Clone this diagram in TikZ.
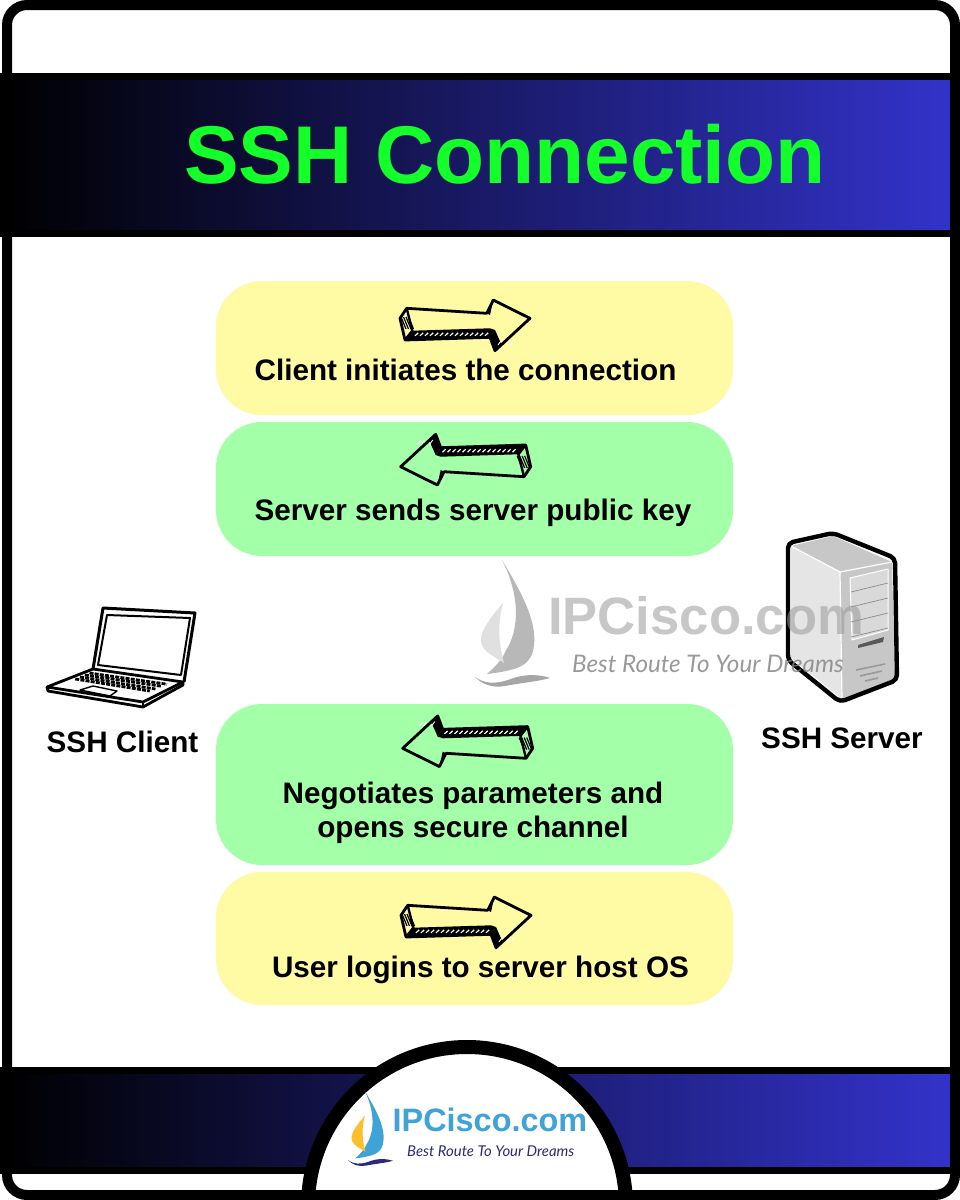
\documentclass[tikz,border=0pt]{standalone}
\usepackage{fontspec}
\setmainfont{Liberation Sans}
\newfontfamily\tagfont{Lato}
\usetikzlibrary{positioning}
\definecolor{bandblue}{HTML}{3333CC}
\definecolor{titlegreen}{HTML}{14FF2A}
\definecolor{pillyellow}{HTML}{FFFAA3}
\definecolor{pillgreen}{HTML}{A3FFA8}
\definecolor{logoblue}{HTML}{3FA3D8}
\definecolor{logoyellow}{HTML}{FDBE2C}
\definecolor{logonavy}{HTML}{2D2A7E}
\tikzset{%
  band/.style={draw=black,line width=7,left color=black,right color=bandblue,minimum width=960,inner sep=0},
  pill/.style={minimum width=517,inner sep=0,rounded corners=46},
  yellowpill/.style={pill,fill=pillyellow},
  greenpill/.style={pill,fill=pillgreen},
  steptext/.style={font=\fontsize{29.65}{34}\selectfont\bfseries,align=center,inner sep=0,anchor=base},
  devtext/.style={font=\fontsize{29.65}{34}\selectfont\bfseries,inner sep=0,anchor=base},
  brand/.style={font=\bfseries,inner sep=0,anchor=base west},
  tagline/.style={font=\tagfont\itshape,inner sep=0,anchor=base west},
  sketcharrow/.pic={
    \fill (-52.7,5.7) -- (25,3.3) -- (30,5) -- (25,12.3) -- (-60,15) -- cycle;
    \fill (30,5) -- (36.7,20) -- (55,1.7) -- (65,-6.7) -- (30,25.7) -- (25,12.3) -- cycle;
    \fill (21.7,-11.7) -- (28.3,-25) -- (25,-10) -- cycle;
    \foreach \x in {-50,-45,...,22}
      \draw[white,line width=1.2] (\x,10.8) -- ++(3.2,-3);
    \foreach \x in {33,37,41,45}
      \draw[white,line width=.9] (\x,20) -- ++(3.2,-4.5);
    \foreach \x in {-64,-61.5,-59,-56.5}
      \draw[line width=1.2] (\x,-8) -- ++(5,12);
    \draw[line width=2.8,line join=round] (-65,-6.7) -- (-58.3,-16.7) -- (21.7,-11.7)
      -- (28.3,-25) -- (65,-6.7) -- (30,25.7) -- (25,12.3) -- (-60,15) -- cycle;
    \draw[line width=2.4] (-58.3,-16.7) -- (-52.7,5.7) -- (-60,15);
  }
}
\newcommand{\sailmark}[6]{%
  \begin{scope}[shift={(#1,#2)},scale=#3]
    \fill[#4] (27,0) .. controls (45,30) and (62,60) .. (59,85)
      .. controls (57,105) and (45,110) .. (12,114)
      .. controls (22,105) and (28,98) .. (30,92)
      .. controls (45,70) and (45,35) .. (27,0) -- cycle;
    \fill[#5] (28,43) .. controls (15,58) and (2,75) .. (7,85)
      .. controls (10,93) and (22,98) .. (29,103)
      .. controls (24,85) and (22,65) .. (28,43) -- cycle;
    \fill[#6] (0,117) .. controls (8,125) and (18,128) .. (30,126)
      .. controls (45,123) and (60,122) .. (75,118)
      .. controls (60,113) and (45,115) .. (33,120)
      .. controls (20,124) and (10,124) .. (0,117) -- cycle;
  \end{scope}}
\begin{document}
\begin{tikzpicture}[x=1pt,y=-1pt]
  \useasboundingbox (0,0) rectangle (960,1200);
  \fill[white] (0,0) rectangle (960,1200);

  % header and footer bands
  \node[band,minimum height=157] (header) at (480,155) {};
  \node[band,minimum height=100] (footer) at (480,1120) {};
  \node[font=\fontsize{81.9}{90}\selectfont\bfseries,text=titlegreen,inner sep=0,anchor=base] (title) at (505,183) {SSH Connection};

  % steps
  \node[yellowpill,minimum height=134] (connect) at (474.5,348) {};
  \node[greenpill,minimum height=134] (pubkey) at (474.5,489) {};
  \node[greenpill,minimum height=161] (channel) at (474.5,784.5) {};
  \node[yellowpill,minimum height=133] (login) at (474.5,938.5) {};

  \pic at (465,325) {sketcharrow};
  \pic[rotate=180] at (465.7,460) {sketcharrow};
  \pic[rotate=180] at (467.7,741.6) {sketcharrow};
  \pic at (466,922) {sketcharrow};

  \node[steptext] (connecttext) at (465.5,380) {Client initiates the connection};
  \node[steptext] (pubkeytext) at (473,520) {Server sends server public key};
  \node[steptext] (channeltext) at (473,837) {Negotiates parameters and\\opens secure channel};
  \node[steptext] (logintext) at (480.5,977) {User logins to server host OS};

  % laptop
  \begin{scope}[line join=round]
    \draw[line width=3] (93,669) -- (103,608) -- (195,613) -- (184,682);
    \draw[line width=2] (98,665) -- (107,615) -- (190,618) -- (181,675) -- cycle;
    \draw[line width=2.8] (47,687) -- (93,669) -- (183,682) -- (143,702) -- cycle;
    \draw[line width=2.8] (47,687) -- (48,691) -- (143,707) -- (183,685) -- (183,682);
    \draw[line width=1.4] (143,702) -- (143,707);
    \foreach \xa/\ya/\xb/\yb in {75.3/679/149.8/691,80/677/155.5/689,84.8/675/161.3/686.2,89.5/673/167/684.2}
      \draw[line width=2.8,dash pattern=on 4pt off 1.2pt] (\xa,\ya) -- (\xb,\yb);
    \draw[line width=1.4] (80,690) -- (93,686) -- (117,691) -- (110,696) -- cycle;
  \end{scope}
  \node[devtext] (clienttext) at (122.5,752) {SSH Client};

  % server
  \begin{scope}[line join=round]
    \fill[black!22] (791,546) -- (833,536) -- (892,562) -- (840,572) -- cycle;
    \fill[black!10] (791,546) -- (840,572) -- (842,699) -- (791,658) -- cycle;
    \fill[black!22] (840,572) -- (892,562) -- (895,680) -- (842,699) -- cycle;
    \draw[white,line width=1.2] (791,546) -- (840,572) -- (892,562);
    \draw[white,line width=1.2] (840,572) -- (842,699);
    \fill[black!15,draw=white,line width=1] (850,578) -- (888,569) -- (888,630) -- (852,640) -- cycle;
    \foreach \y in {0,15,30,45}
      \draw[black!45,line width=.7] (851,592+\y) -- (888,583+\y);
    \fill[black!65] (858,645) -- (884,637) -- (883,642) -- (858,648) -- cycle;
    \draw[black!40,line width=1.6] (856,670) -- (885,664);
    \draw[black!40,line width=1.6] (860,676) -- (882,671);
    \draw[black!40,line width=1.6] (865,681) -- (878,678);
    \draw[line width=4.4,rounded corners=5] (788,543) -- (833,533) -- (895,558) -- (897,680) -- (840,702) -- (788,660) -- cycle;
  \end{scope}
  \node[devtext] (servertext) at (842,748) {SSH Server};

  % watermark
  \sailmark{475}{560}{1}{black!28}{black!12}{black!35}
  \node[brand,font=\fontsize{52.6}{56}\selectfont\bfseries,text=black!40,opacity=.55] (markname) at (548,634) {IPCisco.com};
  \node[tagline,font=\tagfont\itshape\fontsize{24.2}{26}\selectfont,text=black!50,opacity=.8] (markline) at (572,672) {Best Route To Your Dreams};

  % logo half circle
  \begin{scope}
    \clip (0,0) rectangle (960,1190);
    \draw[fill=white,line width=14] (467,1206) circle (159);
  \end{scope}
  \sailmark{348}{1090}{.6}{logoblue}{logoyellow}{logonavy}
  \node[brand,font=\fontsize{32.4}{36}\selectfont\bfseries,text=logoblue] (logoname) at (392.5,1131) {IPCisco.com};
  \node[tagline,font=\tagfont\itshape\fontsize{14.9}{16}\selectfont,text=logonavy] (logoline) at (407,1156) {Best Route To Your Dreams};

  % outer frame
  \draw[line width=10,rounded corners=20] (7,5) rectangle (955,1195);
\end{tikzpicture}
\end{document}
